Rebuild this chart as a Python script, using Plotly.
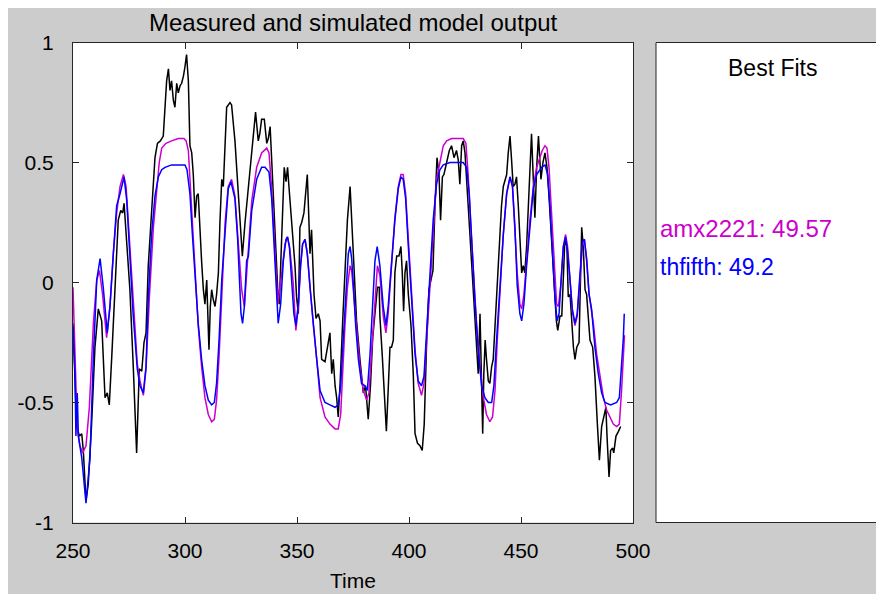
import plotly.graph_objects as go

# ---------------- data ----------------
t_measured = [250.0, 251.6, 252.8, 253.9, 254.6, 255.8, 256.8, 258.3, 259.8, 261.3, 262.8, 264.3, 265.3, 266.2,
              267.3, 268.8, 270.2, 271.3, 272.2, 272.8, 274.0, 275.4, 276.9, 278.4, 279.6, 280.7, 281.7, 282.6,
              283.6, 285.1, 286.6, 287.7, 289.0, 290.3, 291.1, 291.8, 292.6, 293.3, 294.0, 294.8, 295.5, 296.3,
              297.0, 297.8, 298.5, 299.3, 300.0, 300.7, 301.5, 302.2, 303.0, 303.7, 304.5, 305.2, 305.9, 306.7,
              307.4, 308.2, 308.9, 309.7, 310.1, 310.7, 311.3, 311.9, 312.6, 313.4, 314.1, 314.9, 315.6, 316.4,
              317.1, 317.9, 318.6, 320.1, 320.8, 322.3, 323.8, 325.0, 325.6, 326.8, 328.3, 329.8, 331.5, 332.7,
              333.4, 334.2, 335.4, 336.5, 337.2, 338.0, 338.7, 340.2, 341.4, 342.1, 343.2, 344.3, 345.1, 345.8,
              346.4, 347.6, 348.3, 349.1, 349.8, 350.6, 351.3, 352.1, 353.1, 354.0, 354.6, 355.2, 355.8, 356.5,
              357.0, 357.6, 358.5, 359.5, 360.3, 361.0, 362.5, 364.7, 365.5, 366.2, 367.0, 367.7, 368.4, 369.2,
              370.4, 371.4, 372.5, 373.7, 374.4, 375.1, 376.6, 378.1, 379.6, 380.6, 381.8, 382.8, 383.8, 384.8,
              385.9, 386.7, 387.0, 388.1, 389.0, 389.9, 390.7, 391.5, 392.2, 393.0, 393.7, 394.5, 395.5, 396.4,
              397.0, 397.6, 398.2, 398.9, 399.7, 400.9, 401.9, 402.7, 403.8, 404.9, 405.9, 406.8, 407.9, 408.9,
              409.8, 410.7, 411.6, 412.5, 413.4, 414.1, 414.9, 415.6, 416.8, 418.0, 419.0, 420.1, 421.2, 422.0,
              422.7, 423.5, 424.2, 425.0, 425.7, 426.4, 427.2, 427.9, 428.7, 429.4, 430.2, 430.9, 431.7, 432.3,
              432.9, 433.4, 434.0, 434.6, 435.4, 436.1, 436.9, 437.6, 438.4, 439.1, 439.8, 440.6, 441.3, 442.1,
              442.8, 443.6, 444.3, 445.1, 445.8, 446.5, 447.3, 448.0, 448.8, 449.5, 450.3, 451.0, 451.7, 452.5,
              453.2, 454.0, 454.7, 455.5, 456.2, 457.0, 457.8, 458.9, 459.8, 460.7, 461.6, 462.5, 463.7, 464.9,
              465.8, 466.4, 467.4, 468.2, 468.8, 469.6, 470.5, 471.1, 471.9, 472.6, 473.4, 474.1, 474.9, 475.9,
              476.5, 477.1, 477.8, 478.6, 479.3, 480.1, 480.8, 482.0, 483.0, 484.1, 485.0, 486.0, 487.0, 487.9,
              488.4, 489.3, 490.0, 490.9, 491.4, 492.4, 493.5, 494.5]
y_measured = [-0.17, -0.59, -0.64, -0.63, -0.70, -0.91, -0.84, -0.59, -0.27, -0.11, -0.16, -0.48, -0.46, -0.51,
              -0.31, 0.00, 0.26, 0.30, 0.29, 0.33, 0.18, -0.03, -0.35, -0.71, -0.36, -0.37, -0.25, -0.21,
              0.07, 0.32, 0.52, 0.58, 0.59, 0.61, 0.73, 0.84, 0.89, 0.80, 0.84, 0.76, 0.73, 0.83,
              0.79, 0.82, 0.83, 0.86, 0.90, 0.95, 0.84, 0.57, 0.54, 0.45, 0.27, 0.36, 0.37, 0.20,
              0.09, -0.03, -0.09, 0.01, -0.10, -0.28, -0.10, -0.03, -0.07, -0.10, -0.05, 0.04, 0.25, 0.43,
              0.40, 0.59, 0.73, 0.75, 0.74, 0.59, 0.36, 0.22, 0.11, 0.25, 0.39, 0.52, 0.71, 0.59,
              0.62, 0.68, 0.68, 0.58, 0.60, 0.65, 0.52, 0.25, -0.03, -0.09, 0.18, 0.48, 0.42, 0.48,
              0.40, 0.25, 0.20, 0.07, -0.06, -0.13, 0.23, 0.25, 0.29, 0.37, 0.45, 0.29, 0.12, 0.22,
              0.07, -0.05, -0.15, -0.13, -0.16, -0.32, -0.33, -0.21, -0.38, -0.32, -0.43, -0.48, -0.56, -0.43,
              -0.16, 0.05, 0.26, 0.40, 0.26, 0.09, -0.16, -0.32, -0.46, -0.43, -0.57, -0.43, -0.23, -0.13,
              -0.02, -0.02, -0.14, -0.31, -0.49, -0.62, -0.45, -0.27, -0.27, -0.24, 0.04, 0.11, 0.11, 0.15,
              0.04, -0.12, 0.04, 0.09, -0.05, -0.18, -0.38, -0.63, -0.67, -0.68, -0.70, -0.59, -0.24, -0.03,
              0.01, 0.05, 0.32, 0.52, 0.45, 0.26, 0.44, 0.45, 0.50, 0.55, 0.57, 0.52, 0.55, 0.51,
              0.41, 0.57, 0.59, 0.54, 0.43, 0.34, 0.20, 0.09, -0.05, -0.17, -0.30, -0.38, -0.13, -0.41,
              -0.63, -0.38, -0.24, -0.32, -0.41, -0.42, -0.35, -0.32, -0.18, -0.05, 0.09, 0.20, 0.32, 0.40,
              0.43, 0.45, 0.54, 0.61, 0.51, 0.40, 0.41, 0.44, 0.32, 0.18, 0.04, 0.07, 0.04, 0.15,
              0.29, 0.45, 0.62, 0.43, 0.27, 0.48, 0.61, 0.43, 0.50, 0.54, 0.48, 0.36, 0.18, -0.05,
              -0.16, -0.20, -0.14, -0.14, 0.04, 0.18, 0.15, -0.06, -0.05, -0.18, -0.27, -0.32, -0.27, -0.25,
              0.04, 0.23, 0.15, -0.03, -0.05, -0.14, -0.24, -0.27, -0.39, -0.59, -0.74, -0.60, -0.56, -0.52,
              -0.64, -0.81, -0.70, -0.69, -0.71, -0.64, -0.62, -0.60]

t_amx2221 = [250.0, 250.9, 251.9, 253.1, 254.3, 255.8, 257.3, 259.1, 260.6, 261.8, 263.2, 265.0, 266.5, 268.0,
             269.5, 271.0, 272.5, 273.7, 275.4, 276.9, 278.7, 279.9, 281.4, 282.6, 284.1, 285.9, 287.4, 288.5,
             289.6, 291.5, 294.0, 297.0, 299.5, 300.5, 301.5, 302.2, 303.3, 304.5, 305.9, 307.4, 308.9, 310.4,
             311.9, 313.1, 314.1, 315.2, 316.4, 317.9, 319.3, 320.8, 322.3, 323.8, 325.3, 326.5, 328.3, 329.8,
             332.0, 334.2, 336.5, 337.5, 338.7, 340.2, 341.4, 343.2, 344.6, 345.7, 346.8, 348.3, 349.5, 350.6,
             351.6, 352.5, 353.6, 354.6, 355.8, 357.3, 358.8, 360.3, 362.5, 364.7, 367.0, 368.4, 369.5, 370.4,
             371.4, 372.5, 373.7, 374.4, 375.1, 376.6, 378.1, 379.6, 381.1, 382.1, 383.3, 384.8, 385.9, 387.0,
             388.5, 389.7, 390.7, 392.2, 393.7, 395.2, 396.4, 397.4, 398.5, 399.7, 401.2, 402.7, 404.1, 405.6,
             406.7, 407.9, 409.4, 410.8, 412.3, 413.8, 415.3, 416.8, 419.0, 422.0, 424.2, 425.4, 426.4, 427.5,
             428.7, 430.2, 431.7, 433.2, 434.6, 436.1, 437.3, 438.4, 439.4, 440.6, 442.1, 443.6, 445.1, 446.2,
             447.3, 448.3, 449.5, 450.3, 451.3, 452.5, 454.0, 455.5, 457.0, 458.4, 459.5, 460.7, 461.6, 462.5,
             463.7, 464.9, 465.9, 466.7, 467.9, 468.9, 469.9, 470.8, 471.9, 472.9, 474.1, 475.1, 476.3, 477.4,
             478.3, 479.3, 480.4, 482.3, 483.8, 485.3, 486.8, 488.2, 490.0, 491.2, 492.7, 493.9, 494.9, 495.7,
             496.2]
y_amx2221 = [-0.02, -0.31, -0.61, -0.68, -0.71, -0.68, -0.52, -0.17, 0.01, 0.05, -0.05, -0.23, -0.10, 0.12,
             0.29, 0.40, 0.45, 0.40, 0.15, -0.10, -0.34, -0.41, -0.47, -0.36, -0.06, 0.23, 0.40, 0.50,
             0.56, 0.58, 0.59, 0.60, 0.60, 0.59, 0.55, 0.43, 0.23, 0.01, -0.18, -0.35, -0.48, -0.55,
             -0.58, -0.57, -0.49, -0.31, -0.05, 0.25, 0.40, 0.43, 0.36, 0.18, -0.03, -0.10, 0.14, 0.34,
             0.48, 0.54, 0.56, 0.54, 0.39, 0.11, -0.09, 0.04, 0.16, 0.19, 0.14, 0.00, -0.20, -0.10,
             0.07, 0.16, 0.18, 0.12, -0.02, -0.18, -0.32, -0.48, -0.56, -0.59, -0.61, -0.61, -0.55, -0.36,
             -0.18, -0.02, 0.07, 0.05, -0.02, -0.18, -0.35, -0.45, -0.49, -0.46, -0.30, -0.09, 0.07, 0.03,
             -0.14, -0.21, -0.13, 0.07, 0.27, 0.40, 0.45, 0.45, 0.37, 0.18, -0.07, -0.28, -0.42, -0.47,
             -0.42, -0.24, 0.01, 0.23, 0.43, 0.50, 0.57, 0.59, 0.60, 0.60, 0.60, 0.58, 0.45, 0.25,
             0.04, -0.18, -0.35, -0.48, -0.55, -0.58, -0.56, -0.45, -0.24, -0.02, 0.20, 0.37, 0.44, 0.40,
             0.23, 0.04, -0.09, -0.11, -0.05, 0.09, 0.26, 0.40, 0.48, 0.52, 0.55, 0.57, 0.56, 0.48,
             0.29, 0.07, -0.09, -0.10, 0.00, 0.15, 0.20, 0.15, 0.01, -0.12, -0.18, -0.14, 0.01, 0.15,
             0.18, 0.09, -0.05, -0.17, -0.30, -0.40, -0.48, -0.53, -0.57, -0.59, -0.60, -0.59, -0.45, -0.30,
             -0.22]

t_thfifth = [250.0, 250.9, 251.3, 251.9, 252.4, 253.9, 255.8, 257.6, 259.1, 260.6, 262.1, 263.5, 265.3, 266.5,
             268.0, 269.5, 271.0, 272.8, 274.0, 275.4, 276.9, 278.7, 279.9, 281.4, 282.6, 283.6, 285.1, 286.6,
             288.1, 289.6, 291.1, 294.0, 300.0, 300.9, 302.2, 303.3, 304.5, 305.9, 307.4, 308.9, 310.4, 311.9,
             313.1, 314.1, 315.2, 316.4, 317.9, 319.3, 320.5, 322.3, 323.5, 324.3, 325.0, 325.7, 326.5, 327.5,
             328.3, 329.8, 332.0, 334.2, 335.7, 337.5, 338.7, 340.2, 341.6, 342.7, 343.9, 345.1, 345.8, 346.6,
             347.6, 348.6, 349.5, 350.6, 351.6, 352.5, 353.6, 354.6, 355.8, 357.3, 358.8, 360.3, 362.5, 364.7,
             367.0, 368.4, 369.5, 370.7, 371.9, 372.9, 373.7, 374.4, 375.1, 376.2, 377.4, 378.8, 380.3, 381.4,
             382.6, 383.6, 384.8, 385.8, 387.0, 388.5, 389.7, 390.7, 392.2, 393.7, 395.2, 396.4, 397.4, 398.5,
             399.7, 401.2, 402.7, 404.1, 405.6, 406.7, 407.9, 409.4, 410.8, 412.3, 413.8, 415.3, 418.3, 424.2,
             425.7, 426.9, 427.9, 429.4, 430.9, 432.4, 433.9, 435.4, 436.9, 437.9, 439.1, 440.6, 442.1, 443.6,
             445.1, 446.2, 447.3, 448.3, 449.5, 450.3, 451.3, 452.5, 454.0, 455.5, 457.0, 458.4, 459.2, 460.7,
             461.9, 462.9, 464.0, 465.2, 466.1, 467.0, 467.9, 468.9, 469.9, 470.8, 471.9, 472.9, 474.1, 475.1,
             476.3, 477.4, 478.3, 479.3, 480.4, 481.5, 483.0, 484.5, 486.0, 487.5, 490.0, 492.7, 493.9, 494.9,
             495.7, 496.1]
y_thfifth = [-0.18, -0.38, -0.64, -0.46, -0.64, -0.73, -0.92, -0.73, -0.31, 0.01, 0.10, -0.02, -0.21, -0.10,
             0.12, 0.32, 0.37, 0.44, 0.34, 0.12, -0.14, -0.36, -0.43, -0.46, -0.35, -0.07, 0.20, 0.36,
             0.44, 0.47, 0.48, 0.49, 0.49, 0.47, 0.37, 0.20, 0.01, -0.17, -0.32, -0.43, -0.49, -0.51,
             -0.50, -0.42, -0.24, 0.01, 0.21, 0.39, 0.42, 0.35, 0.18, 0.00, -0.13, -0.17, -0.10, 0.09,
             0.11, 0.30, 0.43, 0.48, 0.48, 0.46, 0.35, 0.08, -0.17, -0.09, 0.09, 0.18, 0.19, 0.15,
             0.01, -0.13, -0.18, -0.09, 0.07, 0.16, 0.18, 0.12, -0.02, -0.18, -0.32, -0.45, -0.50, -0.51,
             -0.52, -0.51, -0.43, -0.23, -0.02, 0.12, 0.15, 0.10, 0.00, -0.18, -0.32, -0.42, -0.43, -0.45,
             -0.30, -0.10, 0.09, 0.15, 0.07, -0.10, -0.18, -0.10, 0.07, 0.26, 0.39, 0.44, 0.43, 0.35,
             0.15, -0.10, -0.30, -0.41, -0.43, -0.39, -0.21, 0.04, 0.26, 0.41, 0.47, 0.49, 0.50, 0.50,
             0.48, 0.37, 0.18, -0.07, -0.28, -0.43, -0.48, -0.50, -0.50, -0.43, -0.24, -0.02, 0.20, 0.37,
             0.44, 0.40, 0.23, -0.01, -0.13, -0.16, -0.09, 0.07, 0.25, 0.39, 0.45, 0.47, 0.48, 0.49,
             0.45, 0.32, 0.11, -0.07, -0.16, -0.13, 0.01, 0.15, 0.19, 0.13, 0.01, -0.11, -0.17, -0.13,
             0.03, 0.17, 0.18, 0.10, -0.05, -0.11, -0.27, -0.38, -0.46, -0.50, -0.51, -0.50, -0.48, -0.36,
             -0.23, -0.13]

x_ticks = [250, 300, 350, 400, 450, 500]
y_ticks = [-1, -0.5, 0, 0.5, 1]
y_tick_text = ["-1", "-0.5", "0", "0.5", "1"]

fit_names = ["amx2221", "thfifth"]
fit_values = ["49.57", "49.2"]

title_text = "Measured and simulated model output"
x_label = "Time"
panel_title = "Best Fits"

# ---------------- figure ----------------
OFF = 8                       # page body margin: reference pixel positions are page positions
W, H = 884 - OFF, 594 - OFF


def px(x):
    """page x pixel -> paper fraction"""
    return (x - OFF) / W


def py(y):
    """page y pixel -> paper fraction"""
    return 1 - (y - OFF) / H


FONT = "Liberation Sans, Arial, Helvetica, sans-serif"
GRAY = "#cccccc"
AXC = "#262626"
MAG = "#cc00cc"
BLU = "#0000ff"

fig = go.Figure()
fig.add_trace(go.Scatter(x=t_measured, y=y_measured, mode="lines",
                         line=dict(color="#000000", width=1.5), name="measured"))
fig.add_trace(go.Scatter(x=t_amx2221, y=y_amx2221, mode="lines",
                         line=dict(color=MAG, width=1.5), name=fit_names[0]))
fig.add_trace(go.Scatter(x=t_thfifth, y=y_thfifth, mode="lines",
                         line=dict(color=BLU, width=1.5), name=fit_names[1]))

ax_left, ax_right, ax_top, ax_bottom = 73, 633, 42.5, 522.5
panel_left, far_right = 656, 1100
far_left, far_top, far_bottom = -100, -100, 800


def gray_band(x0, x1, y0, y1):
    return dict(type="rect", xref="paper", yref="paper", x0=px(x0), x1=px(x1),
                y0=py(y1), y1=py(y0), fillcolor=GRAY, line=dict(width=0), layer="below")


def border(x0, x1, y0, y1):
    return dict(type="line", xref="paper", yref="paper", x0=px(x0), x1=px(x1),
                y0=py(y0), y1=py(y1), line=dict(color=AXC, width=1), layer="below")


fig.update_layout(
    width=W, height=H,
    margin=dict(l=0, r=0, t=0, b=0, autoexpand=False),
    paper_bgcolor="white",
    plot_bgcolor="white",
    showlegend=False,
    font=dict(family=FONT, size=20, color="#000000"),
    xaxis=dict(domain=[px(ax_left), px(ax_right)], range=[250, 500],
               tickvals=x_ticks, ticks="inside", ticklen=6, tickcolor=AXC,
               showline=True, linecolor=AXC, linewidth=1, mirror="ticks",
               showgrid=False, zeroline=False, ticklabelstandoff=9,
               automargin=False, tickfont=dict(size=21)),
    yaxis=dict(domain=[py(ax_bottom), py(ax_top)], range=[-1, 1],
               tickvals=y_ticks, ticktext=y_tick_text, ticks="inside", ticklen=6,
               tickcolor=AXC, showline=True, linecolor=AXC, linewidth=1, mirror="ticks",
               showgrid=False, zeroline=False, ticklabelstandoff=14,
               automargin=False, tickfont=dict(size=21)),
    shapes=[
        # gray figure background everywhere except the two white boxes
        gray_band(far_left, far_right, far_top, ax_top),          # top band
        gray_band(far_left, far_right, ax_bottom, far_bottom),    # bottom band
        gray_band(far_left, ax_left, far_top, far_bottom),        # left of the axes (full height)
        gray_band(ax_right, panel_left, far_top, far_bottom),     # gap between axes and panel
        # "Best Fits" panel outline (runs past the window edge)
        border(panel_left, panel_left, ax_bottom, ax_top),
        border(panel_left, far_right, ax_top, ax_top),
        border(panel_left, far_right, ax_bottom, ax_bottom),
    ],
    annotations=[
        dict(text=title_text, xref="paper", yref="paper", x=px(353), y=py(22),
             xanchor="center", yanchor="middle", showarrow=False, font=dict(size=24)),
        dict(text=x_label, xref="paper", yref="paper", x=px(353), y=py(580),
             xanchor="center", yanchor="middle", showarrow=False, font=dict(size=21)),
        dict(text=panel_title, xref="paper", yref="paper", x=px(772), y=py(68),
             xanchor="center", yanchor="middle", showarrow=False, font=dict(size=23)),
        dict(text=f"{fit_names[0]}: {fit_values[0]}", xref="paper", yref="paper",
             x=px(658), y=py(228), xanchor="left", yanchor="middle", showarrow=False,
             font=dict(size=24, color=MAG)),
        dict(text=f"{fit_names[1]}: {fit_values[1]}", xref="paper", yref="paper",
             x=px(658), y=py(267), xanchor="left", yanchor="middle", showarrow=False,
             font=dict(size=23, color=BLU)),
    ],
)

fig.write_html("out.html")
